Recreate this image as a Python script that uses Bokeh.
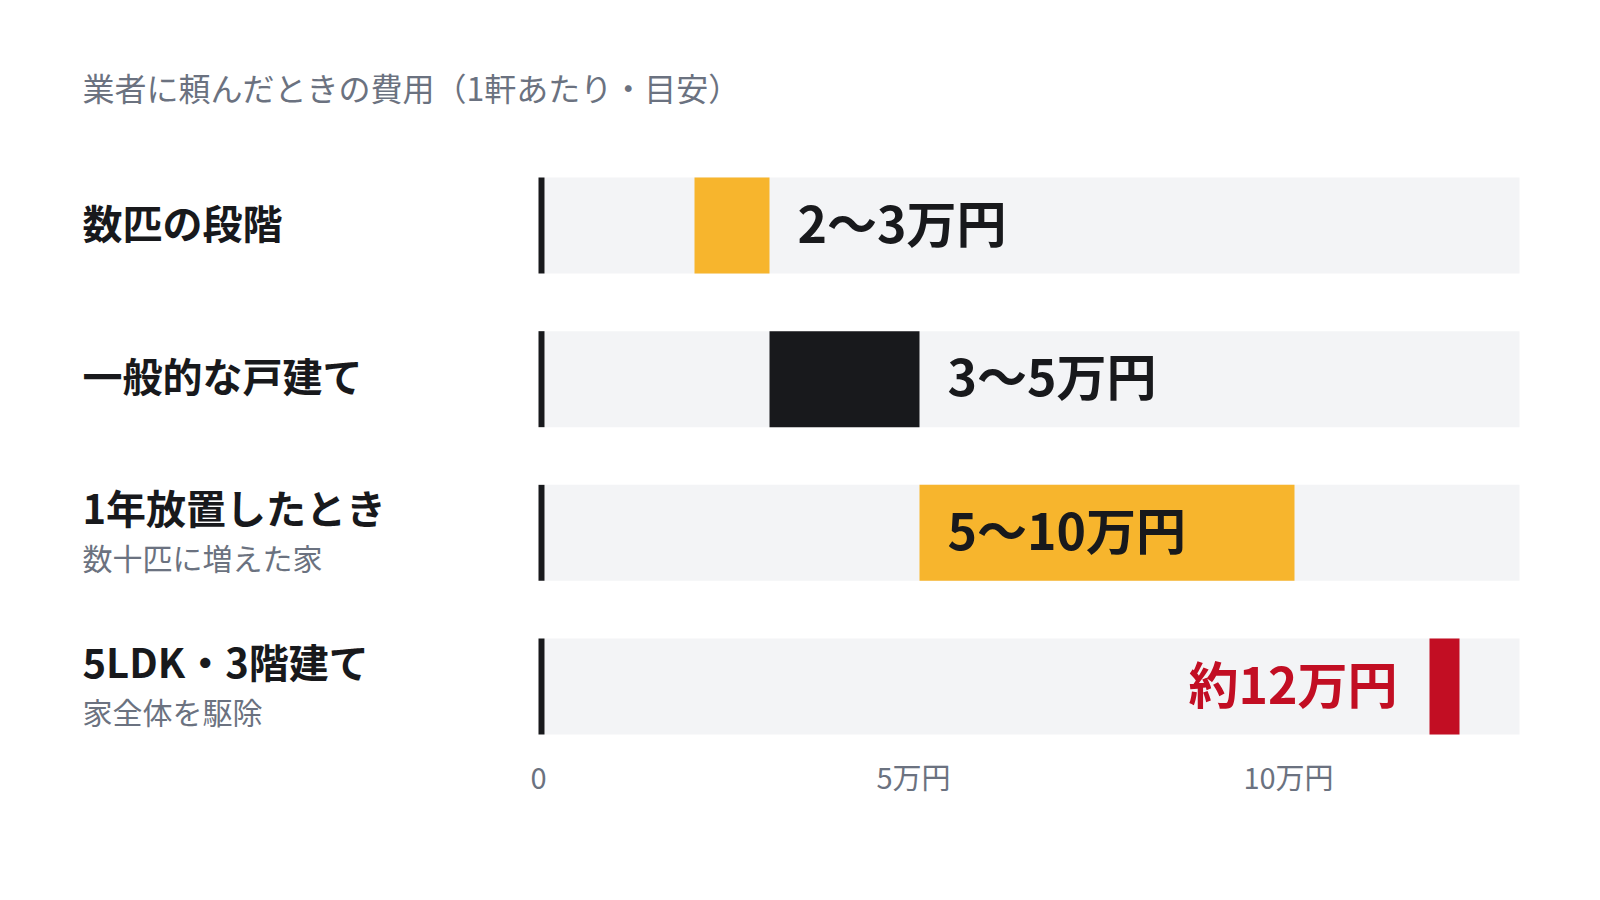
from bokeh.plotting import figure
from bokeh.models import Range1d, FixedTicker, ColumnDataSource, LinearAxis
from bokeh.embed import file_html
from bokeh.resources import INLINE
from bokeh.core.properties import value

# ---------------- data ----------------
title_text = "業者に頼んだときの費用（1軒あたり・目安）"
categories = ["数匹の段階", "一般的な戸建て", "1年放置したとき", "5LDK・3階建て"]
sublabels = ["", "", "数十匹に増えた家", "家全体を駆除"]
row_index = [0, 1, 2, 3]
range_rows = [0, 1, 2]
range_low = [2, 3, 5]
range_high = [3, 5, 10]
point_row = 3
point_value = 12
value_labels = ["2〜3万円", "3〜5万円", "5〜10万円", "約12万円"]
axis_max = 13
tick_values = [0, 5, 10]
tick_labels = ["0", "5万円", "10万円"]

# ---------------- style / layout ----------------
FONT = "Noto Sans CJK JP"
YELLOW = "#F7B52D"
BLACK = "#18191C"
RED = "#C20E23"
TRACK = "#F3F4F6"
GREY = "#6B7280"
range_colors = [YELLOW, BLACK, YELLOW]

W, H = 1584, 884
PX_PER_UNIT = 75.0        # pixels per 1万円
ZERO_PX = 544.0           # canvas x of value 0
ROW_PX = 153.67           # pixels between row centres
ROW0_PX = 225.0           # canvas y of first row centre
FRAME_BOTTOM_PX = 742.0
BAR_PX = 96.0
TEXT_LIFT = 4             # px: optical centring of text
TICK_SHIFT = 6            # px: tick labels sit slightly left of their value

x_start = -ZERO_PX / PX_PER_UNIT
x_end = (W - ZERO_PX) / PX_PER_UNIT
y_top = -ROW0_PX / ROW_PX
y_bottom = (FRAME_BOTTOM_PX - ROW0_PX) / ROW_PX
bar_h = BAR_PX / ROW_PX

def dy(px):
    """pixel distance -> data y distance"""
    return px / ROW_PX

p = figure(width=W, height=H, output_backend="svg", toolbar_location=None,
           x_range=Range1d(x_start, x_end), y_range=Range1d(y_bottom, y_top),
           x_axis_location=None, y_axis_location=None,
           min_border_left=0, min_border_right=0,
           min_border_top=0, min_border_bottom=int(H - FRAME_BOTTOM_PX))
p.background_fill_color = "white"
p.border_fill_color = "white"
p.outline_line_color = None
p.xgrid.visible = False
p.ygrid.visible = False

# tracks
p.hbar(y=row_index, left=0, right=axis_max, height=bar_h, color=TRACK, line_width=0)
# zero baseline (6px wide, just left of 0)
p.hbar(y=row_index, left=-6 / PX_PER_UNIT, right=0, height=bar_h, color=BLACK, line_width=0)
# ranges
src = ColumnDataSource(dict(y=range_rows, left=range_low, right=range_high, c=range_colors))
p.hbar(y="y", left="left", right="right", height=bar_h, fill_color="c", line_color=None, source=src)
# point estimate marker
p.rect(x=[point_value], y=[point_row], width=30, width_units="screen", height=bar_h,
       color=RED, line_width=0)

# value labels
lab_x = [range_high[0], range_high[1], range_low[2], point_value]
lab_off = [28, 28, 28, -47]
lab_align = ["left", "left", "left", "right"]
lab_col = [BLACK, BLACK, BLACK, RED]
lsrc = ColumnDataSource(dict(x=lab_x, y=[r - dy(TEXT_LIFT + 1) for r in row_index],
                             t=value_labels, o=lab_off, a=lab_align, c=lab_col))
p.text(x="x", y="y", text="t", x_offset="o", text_align="a", text_color="c",
       text_baseline="middle", text_font=value(FONT), text_font_style="bold",
       text_font_size="50px", source=lsrc)

# category labels
LABEL_OFF = 82 - ZERO_PX
main_y = [r - dy(22 if s else 0) - dy(TEXT_LIFT) for r, s in zip(row_index, sublabels)]
p.text(x=0, y=main_y, text=categories, x_offset=LABEL_OFF, text_align="left",
       text_baseline="middle", text_font=value(FONT), text_font_style="bold",
       text_font_size="40px", text_color=BLACK)
sub_rows = [r for r, s in zip(row_index, sublabels) if s]
sub_text = [s for s in sublabels if s]
p.text(x=0, y=[r + dy(28 - TEXT_LIFT) for r in sub_rows], text=sub_text, x_offset=LABEL_OFF,
       text_align="left", text_baseline="middle", text_font=value(FONT),
       text_font_size="30px", text_color=GREY)

# title
p.text(x=[0], y=[-dy(ROW0_PX - 86)], text=[title_text], x_offset=LABEL_OFF, text_align="left",
       text_baseline="middle", text_font=value(FONT), text_font_size="32px",
       text_color=GREY)

# x axis (labels nudged 6px left, as in the reference)
p.extra_x_ranges = {"ticks": Range1d(x_start + TICK_SHIFT / PX_PER_UNIT,
                                     x_end + TICK_SHIFT / PX_PER_UNIT)}
ax = LinearAxis(x_range_name="ticks")
ax.ticker = FixedTicker(ticks=tick_values)
ax.major_label_overrides = {t: l for t, l in zip(tick_values, tick_labels)}
ax.axis_line_color = None
ax.major_tick_line_color = None
ax.minor_tick_line_color = None
ax.major_label_standoff = 6
ax.major_label_text_font = FONT
ax.major_label_text_font_size = "29px"
ax.major_label_text_color = GREY
p.add_layout(ax, "below")

open("out.html", "w").write(file_html(p, INLINE))
